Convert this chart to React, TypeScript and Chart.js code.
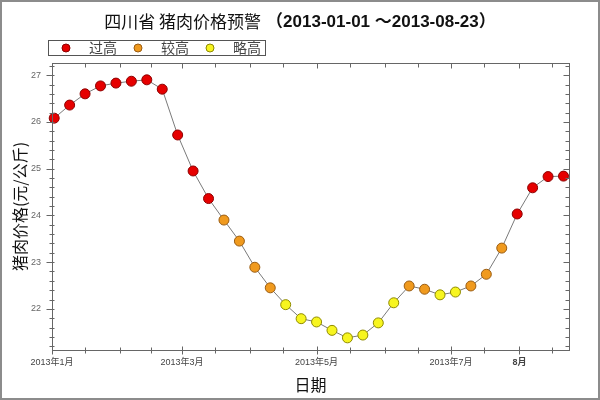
import React, { useEffect, useRef } from "react";
import { Chart, registerables } from "chart.js";
Chart.register(...registerables);

const titleMain = "四川省 猪肉价格预警";
const titleRange = "（2013-01-01 ～2013-08-23）";
const yAxisTitle = "猪肉价格(元/公斤)";
const xAxisTitle = "日期";

const dates = [
  "2013-01-02", "2013-01-09", "2013-01-16", "2013-01-23", "2013-01-30",
  "2013-02-06", "2013-02-13", "2013-02-20", "2013-02-27",
  "2013-03-06", "2013-03-13", "2013-03-20", "2013-03-27",
  "2013-04-03", "2013-04-10", "2013-04-17", "2013-04-24",
  "2013-05-01", "2013-05-08", "2013-05-15", "2013-05-22", "2013-05-29",
  "2013-06-05", "2013-06-12", "2013-06-19", "2013-06-26",
  "2013-07-03", "2013-07-10", "2013-07-17", "2013-07-24", "2013-07-31",
  "2013-08-07", "2013-08-14", "2013-08-21",
];
const prices = [
  26.08, 26.36, 26.6, 26.77, 26.83, 26.87, 26.9, 26.7, 25.72,
  24.95, 24.36, 23.9, 23.45, 22.89, 22.45, 22.09, 21.79,
  21.72, 21.54, 21.38, 21.44, 21.7, 22.13, 22.49, 22.42, 22.3,
  22.36, 22.49, 22.74, 23.3, 24.03, 24.59, 24.83, 24.84,
];
// 0 = 过高, 1 = 较高, 2 = 略高
const levels = [
  0, 0, 0, 0, 0, 0, 0, 0, 0,
  0, 0, 1, 1, 1, 1, 2, 2,
  2, 2, 2, 2, 2, 2, 1, 1, 2,
  2, 1, 1, 1, 0, 0, 0, 0,
];
const levelNames = ["过高", "较高", "略高"];
const levelFill = ["#e60000", "#f09a1e", "#f7f520"];
const levelStroke = ["#8c0000", "#9a5c12", "#8f8a00"];

const xTickDates = [
  "2013-01-01", "2013-01-16", "2013-02-01", "2013-02-15", "2013-03-01", "2013-03-16",
  "2013-04-01", "2013-04-16", "2013-05-01", "2013-05-16", "2013-06-01", "2013-06-16",
  "2013-07-01", "2013-07-16", "2013-08-01", "2013-08-16",
];
const xLabelDates = ["2013-01-01", "2013-03-01", "2013-05-01", "2013-07-01", "2013-08-01"];
const xLabelTexts = ["2013年1月", "2013年3月", "2013年5月", "2013年7月", "8月"];
const xEndDate = "2013-08-23";

const yMajorTicks = [22, 23, 24, 25, 26, 27];
const yMinorTicks = [
  21.2, 21.4, 21.6, 21.8, 22.2, 22.4, 22.6, 22.8, 23.2, 23.4, 23.6, 23.8,
  24.2, 24.4, 24.6, 24.8, 25.2, 25.4, 25.6, 25.8, 26.2, 26.4, 26.6, 26.8, 27.2,
];
const yMin = 21.12;
const yMax = 27.26;

const dayOf = (s: string) => {
  const [y, m, d] = s.split("-").map(Number);
  return (Date.UTC(y, m - 1, d) - Date.UTC(2013, 0, 1)) / 86400000;
};

const AXIS = "#666666";

const decorPlugin = {
  id: "decor",
  afterDraw(chart: any) {
    const { ctx, chartArea: a } = chart;
    const xs = chart.scales.x;
    const ys = chart.scales.y;
    ctx.save();
    // outer frame
    ctx.strokeStyle = "#8c8c8c";
    ctx.lineWidth = 2;
    ctx.strokeRect(1, 1, chart.width - 2, chart.height - 2);

    // plot box
    const L = Math.round(a.left) + 0.5;
    const R = Math.round(a.right) + 0.5;
    const T = Math.round(a.top) + 0.5;
    const B = Math.round(a.bottom) + 0.5;
    ctx.strokeStyle = AXIS;
    ctx.lineWidth = 1;
    ctx.strokeRect(L, T, R - L, B - T);

    ctx.beginPath();
    const majorX = new Set(xLabelDates.map(dayOf));
    xTickDates.forEach((d) => {
      const v = dayOf(d);
      const px = Math.round(xs.getPixelForValue(v)) + 0.5;
      const big = majorX.has(v);
      ctx.moveTo(px, B - (big ? 4 : 3));
      ctx.lineTo(px, B + (big ? 4 : 3));
      ctx.moveTo(px, T);
      ctx.lineTo(px, T + (big ? 5 : 4));
    });
    const yTick = (v: number, big: boolean) => {
      const py = Math.round(ys.getPixelForValue(v)) + 0.5;
      ctx.moveTo(L - (big ? 6 : 3), py);
      ctx.lineTo(L + 2, py);
      ctx.moveTo(R - (big ? 6 : 4), py);
      ctx.lineTo(R, py);
    };
    yMinorTicks.forEach((v) => yTick(v, false));
    yMajorTicks.forEach((v) => yTick(v, true));
    ctx.stroke();

    // title
    const f1 = '17px "Noto Sans CJK SC", "Liberation Sans", sans-serif';
    const f2 = 'bold 17px "Liberation Sans", "Noto Sans CJK SC", sans-serif';
    ctx.font = f1;
    const w1 = ctx.measureText(titleMain).width;
    ctx.font = f2;
    const w2 = ctx.measureText(titleRange).width;
    const gap = 5;
    const tx = 300 - (w1 + gap + w2) / 2;
    ctx.fillStyle = "#111";
    ctx.textBaseline = "middle";
    ctx.textAlign = "left";
    ctx.font = f1;
    ctx.fillText(titleMain, tx, 22);
    ctx.font = f2;
    ctx.fillText(titleRange, tx + w1 + gap, 22);

    // legend
    ctx.fillStyle = "#fff";
    ctx.fillRect(48.5, 40.5, 217, 15);
    ctx.strokeStyle = "#555";
    ctx.strokeRect(48.5, 40.5, 217, 15);
    levelNames.forEach((name, i) => {
      const cx = 66 + i * 72;
      ctx.beginPath();
      ctx.arc(cx, 48, 4, 0, Math.PI * 2);
      ctx.fillStyle = levelFill[i];
      ctx.fill();
      ctx.strokeStyle = levelStroke[i];
      ctx.stroke();
      ctx.fillStyle = "#444";
      ctx.font = '14px "Noto Sans CJK SC", sans-serif';
      ctx.textBaseline = "middle";
      ctx.fillText(name, cx + 23, 48);
    });
    ctx.restore();
  },
};

export default function App() {
  const ref = useRef<HTMLCanvasElement>(null);
  useEffect(() => {
    document.body.style.margin = "0";
    const points = dates.map((d, i) => ({ x: dayOf(d), y: prices[i] }));
    const labelDays = xLabelDates.map(dayOf);
    const chart = new Chart(ref.current as HTMLCanvasElement, {
      type: "line",
      data: {
        datasets: [
          {
            data: points,
            borderColor: "#7a7a7a",
            borderWidth: 1,
            pointRadius: 5,
            pointBorderWidth: 1,
            pointBackgroundColor: levels.map((l) => levelFill[l]),
            pointBorderColor: levels.map((l) => levelStroke[l]),
            tension: 0,
            clip: false as any,
          },
        ],
      },
      options: {
        animation: false,
        responsive: false,
        events: [],
        layout: { padding: { top: 63, right: 31, left: 0, bottom: 0 } },
        plugins: { legend: { display: false }, tooltip: { enabled: false }, title: { display: false } },
        scales: {
          x: {
            type: "linear",
            min: 0,
            max: dayOf(xEndDate) + 0.5,
            grid: { display: false, drawTicks: false },
            border: { display: false },
            afterBuildTicks: (s: any) => {
              s.ticks = labelDays.map((v) => ({ value: v }));
            },
            afterFit: (s: any) => {
              s.height = 50;
            },
            ticks: {
              autoSkip: false,
              maxRotation: 0,
              padding: 7,
              color: "#444",
              font: (c: any) => ({
                size: 9,
                family: '"Liberation Sans", "Noto Sans CJK SC", sans-serif',
                weight: c.tick && c.tick.value === labelDays[labelDays.length - 1] ? "bold" : "normal",
              }),
              callback: (v: any) => {
                const i = labelDays.indexOf(Number(v));
                return i >= 0 ? xLabelTexts[i] : "";
              },
            },
            title: {
              display: true,
              text: xAxisTitle,
              color: "#111",
              font: { size: 16, family: '"Noto Sans CJK SC", sans-serif' },
              padding: { top: 0, bottom: 5.5 },
            },
          },
          y: {
            type: "linear",
            min: yMin,
            max: yMax,
            grid: { display: false, drawTicks: false },
            border: { display: false },
            afterBuildTicks: (s: any) => {
              s.ticks = yMajorTicks.map((v) => ({ value: v }));
            },
            afterFit: (s: any) => {
              s.width = 52;
            },
            ticks: {
              padding: 11,
              color: "#666",
              font: { size: 9, family: '"Liberation Sans", sans-serif' },
              callback: (v: any) => String(v),
            },
            title: {
              display: true,
              text: yAxisTitle,
              color: "#111",
              font: { size: 16, family: '"Noto Sans CJK SC", sans-serif' },
              padding: { top: 10, bottom: 0 },
            },
          },
        },
      },
      plugins: [decorPlugin],
    });
    return () => chart.destroy();
  }, []);
  return (
    <div style={{ width: 600, height: 400, background: "#fff" }}>
      <canvas ref={ref} width={600} height={400} style={{ display: "block" }} />
    </div>
  );
}
